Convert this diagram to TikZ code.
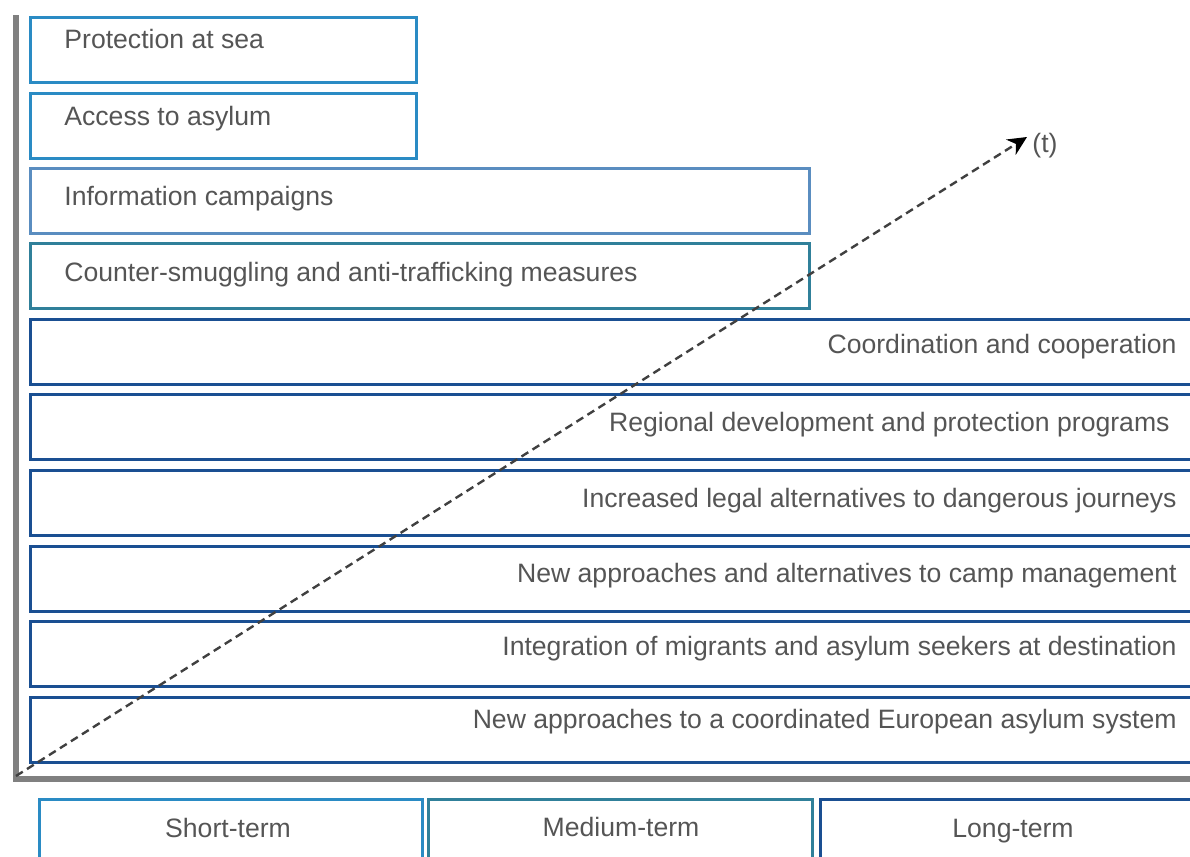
\documentclass[tikz,border=0pt]{standalone}
\usepackage{fontspec}
\setmainfont{Liberation Sans}
\usetikzlibrary{arrows.meta}
\definecolor{lblue}{HTML}{2A8BC4}
\definecolor{sblue}{HTML}{5A8DC0}
\definecolor{teal}{HTML}{30809A}
\definecolor{dblue}{HTML}{1A4F92}
\definecolor{txt}{HTML}{555555}
\definecolor{axisgray}{HTML}{808080}
\definecolor{arrowgray}{HTML}{404040}
\begin{document}
\begin{tikzpicture}[x=0.5pt,y=-0.5pt,
  box/.style={draw=#1, line width=1.5pt, anchor=north west, inner sep=0pt, minimum height=32.5pt},
  lab/.style={text=txt, font=\fontsize{13.3}{16}\selectfont, inner sep=0pt},
  axisline/.style={draw=axisgray, line width=3pt, miter limit=10},
  timearrow/.style={draw=arrowgray, line width=1.2pt, dash pattern=on 4pt off 2.5pt, -{Stealth[length=9.5pt,width=9pt,inset=3pt,color=black,fill=black]}}
  ]
\useasboundingbox (0,0) rectangle (1190,857);
% axes
\draw[axisline] (15.5,15) -- (15.5,779) -- (1205,779);
% short boxes
\node[box=lblue, minimum width=193pt] (b1) at (29,16) {};
\node[box=lblue, minimum width=193pt] (b2) at (29,91.5) {};
\node[box=sblue, minimum width=389.5pt] (b3) at (29,167) {};
\node[box=teal, minimum width=389.5pt] (b4) at (29,242) {};
% long boxes
\node[box=dblue, minimum width=590pt] (b5) at (29,318) {};
\node[box=dblue, minimum width=590pt] (b6) at (29,393) {};
\node[box=dblue, minimum width=590pt] (b7) at (29,469) {};
\node[box=dblue, minimum width=590pt] (b8) at (29,544.5) {};
\node[box=dblue, minimum width=590pt] (b9) at (29,620) {};
\node[box=dblue, minimum width=590pt] (b10) at (29,695.5) {};
% labels
\node[lab, anchor=base west] (t1) at (64,48) {Protection at sea};
\node[lab, anchor=base west] (t2) at (64,125) {Access to asylum};
\node[lab, anchor=base west] (t3) at (64,205) {Information campaigns};
\node[lab, anchor=base west] (t4) at (64,281.5) {Counter-smuggling and anti-trafficking measures};
\node[lab, anchor=base east] (t5) at (1177,353) {Coordination and cooperation};
\node[lab, anchor=base east] (t6) at (1170,431) {Regional development and protection programs};
\node[lab, anchor=base east] (t7) at (1177,507) {Increased legal alternatives to dangerous journeys};
\node[lab, anchor=base east] (t8) at (1177,582) {New approaches and alternatives to camp management};
\node[lab, anchor=base east] (t9) at (1177,655) {Integration of migrants and asylum seekers at destination};
\node[lab, anchor=base east] (t10) at (1177,728) {New approaches to a coordinated European asylum system};
% bottom boxes
\node[box=lblue, minimum width=191.5pt, minimum height=40pt] (s) at (37.5,798) {};
\node[box=teal, minimum width=192pt, minimum height=40pt] (m) at (426.5,798) {};
\node[box=dblue, minimum width=191pt, minimum height=40pt] (l) at (818.5,798) {};
\node[lab, anchor=base] (st) at (228,837) {Short-term};
\node[lab, anchor=base] (mt) at (621,836) {Medium-term};
\node[lab, anchor=base] (lt) at (1013,837) {Long-term};
% time arrow
\coordinate (o) at (16,776);
\coordinate (tend) at (1027,137);
\draw[timearrow] (o) -- (tend);
\node[lab, anchor=base west] (tl) at (1032,152.5) {(t)};
\end{tikzpicture}
\end{document}
